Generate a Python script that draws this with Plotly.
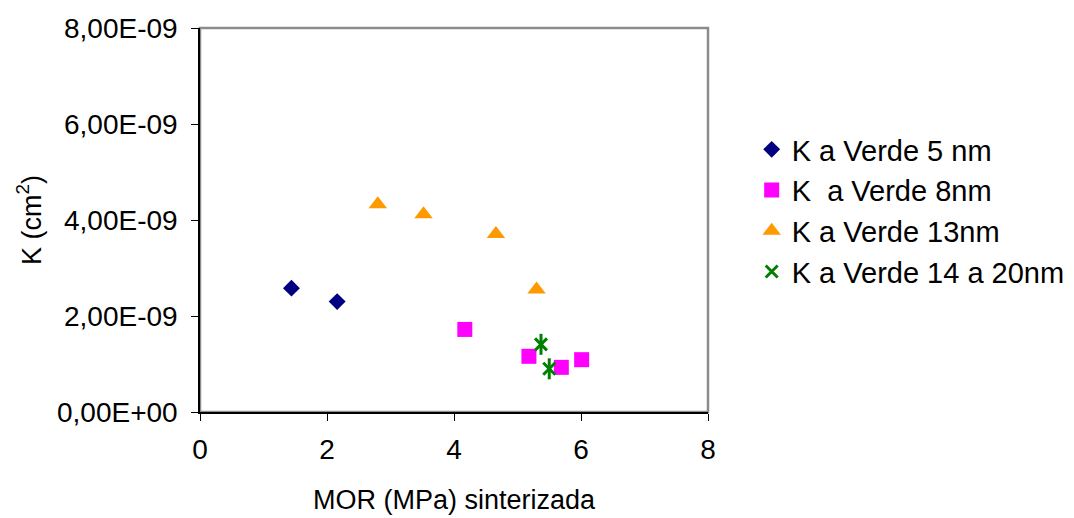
import plotly.graph_objects as go

# MOR (MPa) after sintering vs. permeability K (cm^2) for each green particle size
mor_5nm = [1.44, 2.16]
k_5nm = [2.58e-9, 2.30e-9]

mor_8nm = [4.17, 5.18, 5.69, 6.01]
k_8nm = [1.72e-9, 1.16e-9, 0.93e-9, 1.09e-9]

mor_13nm = [2.80, 3.52, 4.66, 5.30]
k_13nm = [4.33e-9, 4.12e-9, 3.71e-9, 2.55e-9]

mor_14_20nm = [5.37, 5.50]
k_14_20nm = [1.41e-9, 0.90e-9]

series_names = ["K a Verde 5 nm", "K  a Verde 8nm", "K a Verde 13nm", "K a Verde 14 a 20nm"]

y_tickvals = [0, 2e-9, 4e-9, 6e-9, 8e-9]
y_ticktext = ["0,00E+00", "2,00E-09", "4,00E-09", "6,00E-09", "8,00E-09"]
x_tickvals = [0, 2, 4, 6, 8]

FONT = "Liberation Sans, Arial, sans-serif"
TICK_FS = 28
TITLE_FS = 27
LEGEND_FS = 29

fig = go.Figure()

fig.add_trace(go.Scatter(
    x=mor_5nm, y=k_5nm, mode="markers", name=series_names[0], legendgroup="g1",
    marker=dict(symbol="diamond", size=13, color="#000080", line=dict(width=0)),
))
fig.add_trace(go.Scatter(
    x=mor_8nm, y=k_8nm, mode="markers", name=series_names[1], legendgroup="g2",
    marker=dict(symbol="square", size=15, color="#FF00FF", line=dict(width=0)),
))
fig.add_trace(go.Scatter(
    x=mor_13nm, y=k_13nm, mode="markers", name=series_names[2], legendgroup="g3",
    marker=dict(symbol="triangle-up", size=16, color="#FF9900", line=dict(width=0)),
))
# star marker = diagonal cross plus a vertical stroke
fig.add_trace(go.Scatter(
    x=mor_14_20nm, y=k_14_20nm, mode="markers", name=series_names[3], legendgroup="g4",
    marker=dict(symbol="x-thin-open", size=12, color="#008000", line=dict(width=3, color="#008000")),
))
fig.add_trace(go.Scatter(
    x=mor_14_20nm, y=k_14_20nm, mode="markers", name=series_names[3], legendgroup="g4",
    showlegend=False, hoverinfo="skip",
    marker=dict(symbol="line-ns-open", size=15, color="#008000", line=dict(width=3, color="#008000")),
))

# plot-area frame: grey top/right edges
fig.add_shape(type="rect", xref="x domain", yref="y domain", x0=0, x1=1, y0=0, y1=1,
              line=dict(color="#8c8c8c", width=2.5), layer="below")

fig.update_layout(
    width=1074, height=518,
    margin=dict(l=200, r=366, t=28, b=106, autoexpand=False),
    paper_bgcolor="white", plot_bgcolor="white",
    font=dict(family=FONT, size=TICK_FS, color="black"),
    showlegend=True,
    legend=dict(x=1.086, y=0.75, xanchor="left", yanchor="top",
                font=dict(family=FONT, size=LEGEND_FS, color="black"),
                tracegroupgap=0, bgcolor="rgba(0,0,0,0)"),
    xaxis=dict(range=[0, 8], tickvals=x_tickvals, ticks="outside", ticklen=7, tickwidth=1,
               tickcolor="black", showline=True, linecolor="black", linewidth=1.5,
               showgrid=False, zeroline=False, ticklabelstandoff=5,
               title=dict(text="MOR (MPa) sinterizada", standoff=26,
                          font=dict(family=FONT, size=TITLE_FS))),
    yaxis=dict(range=[0, 8e-9], tickvals=y_tickvals, ticktext=y_ticktext, ticks="outside",
               ticklen=7, tickwidth=1, tickcolor="black", showline=True, linecolor="black",
               linewidth=1.5, showgrid=False, zeroline=False, ticklabelstandoff=8,
               title=dict(text="K (cm<sup>2</sup>)", standoff=8,
                          font=dict(family=FONT, size=TITLE_FS))),
)

fig.write_html("out.html")
